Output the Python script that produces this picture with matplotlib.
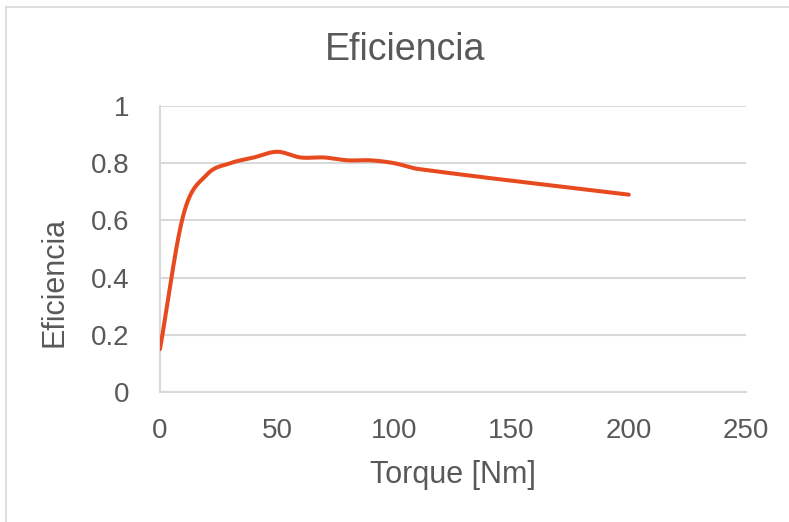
import numpy as np
import matplotlib
matplotlib.use('Agg')
import matplotlib.pyplot as plt
from matplotlib.lines import Line2D

# data
torque = [0, 10, 20, 30, 40, 50, 60, 70, 80, 90, 100, 110, 200]
eficiencia = [0.15, 0.62, 0.76, 0.80, 0.82, 0.84, 0.82, 0.82, 0.81, 0.81, 0.80, 0.78, 0.69]

TEXT = '#595959'
GRID = '#D9D9D9'
LINE = '#E84A1F'

plt.rcParams['font.family'] = ['Liberation Sans', 'DejaVu Sans']


def smooth(xs, ys, n=40):
    # smoothed line through the points (cubic Hermite, Excel-like look)
    x = np.asarray(xs, float)
    y = np.asarray(ys, float)
    m = np.empty_like(y)
    m[1:-1] = (y[2:] - y[:-2]) / (x[2:] - x[:-2])
    m[0] = (y[1] - y[0]) / (x[1] - x[0])
    m[-1] = (y[-1] - y[-2]) / (x[-1] - x[-2])
    ox, oy = [], []
    for i in range(len(x) - 1):
        h = x[i + 1] - x[i]
        t = np.linspace(0, 1, n)
        if i > 0:
            t = t[1:]
        h00 = 2 * t**3 - 3 * t**2 + 1
        h10 = t**3 - 2 * t**2 + t
        h01 = -2 * t**3 + 3 * t**2
        h11 = t**3 - t**2
        ox.append(x[i] + t * h)
        oy.append(h00 * y[i] + h10 * h * m[i] + h01 * y[i + 1] + h11 * h * m[i + 1])
    return np.concatenate(ox), np.concatenate(oy)


fig = plt.figure(figsize=(7.89, 5.22), dpi=100)
ax = fig.add_axes([160 / 789, 1 - 392 / 522, 586 / 789, 286 / 522])

sx, sy = smooth(torque, eficiencia)
ax.plot(sx, sy, color=LINE, linewidth=2.9, solid_capstyle='round', zorder=3)

ax.set_xlim(0, 250)
ax.set_ylim(0, 1)
ax.set_xticks([0, 50, 100, 150, 200, 250])
ax.set_yticks([0, 0.2, 0.4, 0.6, 0.8, 1])
ax.set_yticklabels(['0', '0.2', '0.4', '0.6', '0.8', '1'])
ax.grid(axis='y', color=GRID, linewidth=1.5)
ax.set_axisbelow(True)
for s in ['top', 'right']:
    ax.spines[s].set_visible(False)
ax.spines['left'].set_color(GRID)
ax.spines['bottom'].set_color(GRID)
ax.spines['left'].set_linewidth(1.5)
ax.spines['bottom'].set_linewidth(1.5)
ax.tick_params(length=0, labelsize=20, colors=TEXT)
ax.tick_params(axis='y', pad=22)
ax.tick_params(axis='x', pad=19)

ax.set_xlabel('Torque [Nm]', fontsize=22, color=TEXT, labelpad=11)
ax.set_ylabel('Eficiencia', fontsize=22, color=TEXT)
ax.yaxis.set_label_coords(-0.155, 0.385)
fig.text(405 / 789, 1 - 50 / 522, 'Eficiencia', fontsize=27, color=TEXT,
         ha='center', va='center')

# chart area border (top and left visible in the crop)
fig.add_artist(Line2D([6 / 789, 1], [1 - 7 / 522, 1 - 7 / 522], color=GRID, linewidth=1.2))
fig.add_artist(Line2D([6 / 789, 6 / 789], [0, 1 - 7 / 522], color=GRID, linewidth=1.2))

fig.savefig('out.png', dpi=100)
